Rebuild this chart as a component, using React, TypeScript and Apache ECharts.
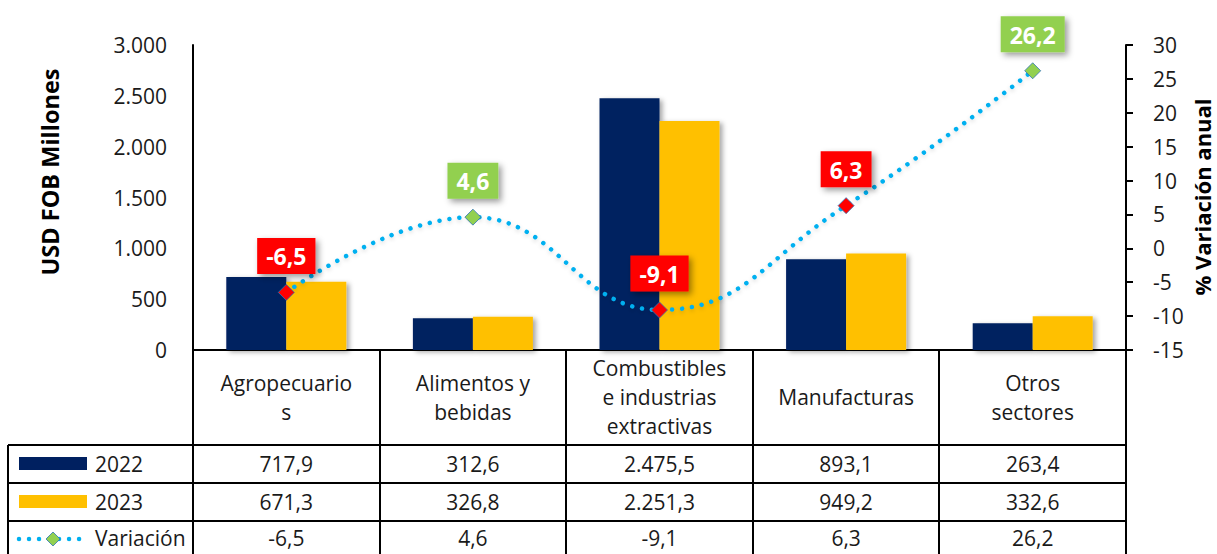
import React, { useEffect, useRef } from "react";
import * as echarts from "echarts";

const categories = [
  "Agropecuario\ns",
  "Alimentos y\nbebidas",
  "Combustibles\ne industrias\nextractivas",
  "Manufacturas",
  "Otros\nsectores",
];
const seriesNames = ["2022", "2023", "Variación"];
const values2022 = [717.9, 312.6, 2475.5, 893.1, 263.4];
const values2023 = [671.3, 326.8, 2251.3, 949.2, 332.6];
const variacion = [-6.5, 4.6, -9.1, 6.3, 26.2];
const leftAxis = { min: 0, max: 3000, interval: 500, name: "USD FOB Millones" };
const rightAxis = { min: -15, max: 30, interval: 5, name: "% Variación anual" };

const NAVY = "#002060";
const GOLD = "#FFC000";
const LINE = "#00B0F0";
const GREEN = "#92D050";
const RED = "#FF0000";
const pointColors = [RED, GREEN, RED, RED, GREEN];
const TXT = "#1a1a1a";
const FONT = "'Open Sans', sans-serif";

function fmt(v: number, dec: number): string {
  const neg = v < 0;
  const s = Math.abs(v).toFixed(dec);
  const [ip, dp] = s.split(".");
  const withSep = ip.replace(/\B(?=(\d{3})+(?!\d))/g, ".");
  return (neg ? "-" : "") + withSep + (dp !== undefined ? "," + dp : "");
}

const W = 1217;
const H = 554;
const GRID_L = 193;
const GRID_R = 1126;
const GRID_T = 45;
const GRID_B = 350;

export default function App() {
  const ref = useRef<HTMLDivElement>(null);
  useEffect(() => {
    if (!ref.current) return;
    const chart = echarts.init(ref.current, null, { renderer: "svg" });
    const cellW = (GRID_R - GRID_L) / categories.length;
    const rowLines = [445, 483, 521];
    const rowCenters = [464, 502, 538];
    const bottom = H + 2;
    const lineStyle = { stroke: "#000", lineWidth: 2 };
    const graphics: any[] = [];
    for (let i = 0; i <= categories.length; i++) {
      const x = Math.round(GRID_L + i * cellW);
      graphics.push({ type: "line", shape: { x1: x, y1: GRID_B, x2: x, y2: bottom }, style: lineStyle, z: 100 });
    }
    graphics.push({ type: "line", shape: { x1: 8, y1: rowLines[0], x2: 8, y2: bottom }, style: lineStyle, z: 100 });
    rowLines.forEach((y) => {
      graphics.push({ type: "line", shape: { x1: 8, y1: y, x2: GRID_R, y2: y }, style: lineStyle, z: 100 });
    });
    const rows = [
      values2022.map((v) => fmt(v, 1)),
      values2023.map((v) => fmt(v, 1)),
      variacion.map((v) => fmt(v, 1)),
    ];
    rows.forEach((row, r) => {
      row.forEach((t, i) => {
        graphics.push({
          type: "text",
          x: GRID_L + cellW * (i + 0.5),
          y: rowCenters[r],
          style: { text: t, fontSize: 21, fontFamily: FONT, fill: TXT, align: "center", verticalAlign: "middle" },
          z: 100,
        });
      });
      graphics.push({
        type: "text",
        x: 95,
        y: rowCenters[r],
        style: { text: seriesNames[r], fontSize: 21, fontFamily: FONT, fill: TXT, align: "left", verticalAlign: "middle" },
        z: 100,
      });
    });
    graphics.push({ type: "rect", shape: { x: 19, y: 457, width: 68, height: 13 }, style: { fill: NAVY }, z: 100 });
    graphics.push({ type: "rect", shape: { x: 19, y: 495, width: 68, height: 13 }, style: { fill: GOLD }, z: 100 });
    graphics.push({
      type: "line",
      shape: { x1: 19, y1: 539, x2: 87, y2: 539 },
      style: { stroke: LINE, lineWidth: 4.5, lineDash: [0.01, 10], lineCap: "round" },
      z: 100,
    });
    graphics.push({
      type: "polygon",
      shape: { points: [[53, 532], [60, 539], [53, 546], [46, 539]] },
      style: { fill: GREEN, stroke: "#2E75B6", lineWidth: 0.8 },
      z: 101,
    });
    graphics.push({
      type: "text",
      x: 50,
      y: 172,
      rotation: Math.PI / 2,
      style: { text: leftAxis.name, fontSize: 23.5, fontWeight: "bold", fontFamily: FONT, fill: "#000", align: "center", verticalAlign: "middle" },
    });
    graphics.push({
      type: "text",
      x: 1202,
      y: 197,
      rotation: Math.PI / 2,
      style: { text: rightAxis.name, fontSize: 22, fontWeight: "bold", fontFamily: FONT, fill: "#000", align: "center", verticalAlign: "middle" },
    });

    const barShadow = { shadowBlur: 5, shadowColor: "rgba(0,0,0,0.35)", shadowOffsetX: 3, shadowOffsetY: 2 };

    chart.setOption({
      animation: false,
      textStyle: { fontFamily: FONT },
      grid: { left: GRID_L, right: W - GRID_R, top: GRID_T, bottom: H - GRID_B, containLabel: false },
      xAxis: {
        type: "category",
        data: categories,
        axisLine: { show: true, lineStyle: { color: "#000", width: 2 } },
        axisTick: { show: false },
        axisLabel: {
          interval: 0,
          fontSize: 21,
          lineHeight: 29,
          color: TXT,
          verticalAlign: "middle",
          margin: 47,
          fontFamily: FONT,
        },
      },
      yAxis: [
        {
          type: "value",
          min: leftAxis.min,
          max: leftAxis.max,
          interval: leftAxis.interval,
          axisLine: { show: true, lineStyle: { color: "#000", width: 2 } },
          axisTick: { show: false },
          splitLine: { show: false },
          axisLabel: { fontSize: 21, color: TXT, margin: 26, fontFamily: FONT, formatter: (v: number) => fmt(v, 0) },
        },
        {
          type: "value",
          position: "right",
          min: rightAxis.min,
          max: rightAxis.max,
          interval: rightAxis.interval,
          axisLine: { show: true, lineStyle: { color: "#000", width: 2 } },
          axisTick: { show: true, length: 7, lineStyle: { color: "#000", width: 2 } },
          splitLine: { show: false },
          axisLabel: { fontSize: 21, color: TXT, margin: 27, fontFamily: FONT, formatter: (v: number) => String(v) },
        },
      ],
      graphic: graphics,
      series: [
        {
          name: seriesNames[0],
          type: "bar",
          data: values2022,
          barWidth: 60,
          barGap: "0%",
          itemStyle: { color: NAVY, ...barShadow },
        },
        {
          name: seriesNames[1],
          type: "bar",
          data: values2023,
          barWidth: 60,
          barGap: "0%",
          itemStyle: { color: GOLD, ...barShadow },
        },
        {
          name: seriesNames[2],
          type: "line",
          yAxisIndex: 1,
          smooth: 0.45,
          z: 5,
          symbol: "diamond",
          symbolSize: 16,
          lineStyle: {
            color: LINE,
            width: 4.5,
            type: [0.01, 10],
            cap: "round",
            shadowBlur: 4,
            shadowColor: "rgba(0,0,0,0.15)",
            shadowOffsetY: 2,
          },
          data: variacion.map((v, i) => {
            const c = pointColors[i];
            return {
              value: v,
              itemStyle: { color: c, borderColor: "#2E75B6", borderWidth: 0.8 },
              label: {
                show: true,
                position: "top",
                distance: 10,
                formatter: () => fmt(v, 1),
                color: "#fff",
                fontWeight: "bold",
                fontSize: 23,
                fontFamily: FONT,
                backgroundColor: c,
                padding: [7, 9, 6, 9],
                shadowBlur: 6,
                shadowColor: "rgba(0,0,0,0.4)",
                shadowOffsetX: 3,
                shadowOffsetY: 3,
              },
            };
          }),
        },
      ],
    });
    return () => chart.dispose();
  }, []);
  return (
    <div
      ref={ref}
      style={{ position: "fixed", left: 0, top: 0, width: W, height: H, background: "#fff" }}
    />
  );
}
